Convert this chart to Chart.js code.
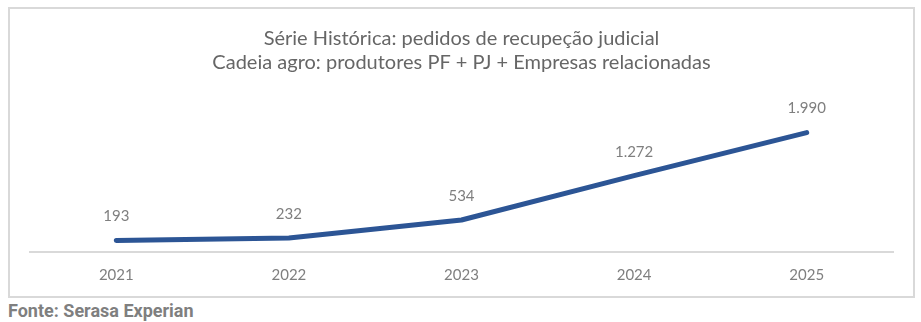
<!DOCTYPE html>
<html><head><meta charset="utf-8">
<script src="https://cdn.jsdelivr.net/npm/chart.js@4"></script>
<style>
html,body{margin:0;padding:0;background:#fff;width:921px;height:322px;overflow:hidden;}
#box{position:absolute;left:8px;top:7px;width:903px;height:287px;border:2px solid #d9d9d9;}
#box canvas{display:block;}
#foot{position:absolute;left:8px;top:300px;font-family:Roboto;font-weight:bold;font-size:18px;color:#7f7f7f;line-height:22px;}
</style></head>
<body>
<div id="box"><canvas id="c" width="903" height="287"></canvas></div>
<div id="foot">Fonte: Serasa Experian</div>
<script>
const years = ['2021','2022','2023','2024','2025'];
const pedidos = [193, 232, 534, 1272, 1990];
const titleLines = ['Série Histórica: pedidos de recupeção judicial','Cadeia agro: produtores PF + PJ + Empresas relacionadas'];
const fmt = v => v.toLocaleString('pt-BR');

const labelPlugin = {
  id:'vlabels',
  afterDatasetsDraw(chart){
    const ctx = chart.ctx;
    const meta = chart.getDatasetMeta(0);
    ctx.save();
    ctx.font = '15px Lato';
    ctx.fillStyle = '#7f7f7f';
    ctx.textAlign = 'center';
    ctx.textBaseline = 'middle';
    meta.data.forEach((p,i)=>{ ctx.fillText(fmt(pedidos[i]), p.x, p.y - 24); });
    ctx.restore();
  }
};

new Chart(document.getElementById('c'), {
  type:'line',
  data:{labels:years, datasets:[{data:pedidos, borderColor:'#2c5595', borderWidth:5, pointRadius:0, borderCapStyle:'round', borderJoinStyle:'round', tension:0}]},
  options:{
    responsive:false, animation:false, devicePixelRatio:1,
    layout:{padding:{left:20,right:20,top:0,bottom:-3}},
    plugins:{
      legend:{display:false}, tooltip:{enabled:false},
      title:{display:true, text:titleLines, color:'#666666', font:{family:'Lato', size:20, weight:'normal', lineHeight:1.2}, padding:{top:18,bottom:30}}
    },
    scales:{
      x:{offset:true, grid:{display:false, drawTicks:false}, border:{display:true,color:'#d9d9d9',width:2},
         ticks:{color:'#7f7f7f', font:{family:'Lato', size:15, lineHeight:1.0}, padding:16}},
      y:{display:false, min:0, max:2450}
    }
  },
  plugins:[labelPlugin]
});
</script>
</body></html>
